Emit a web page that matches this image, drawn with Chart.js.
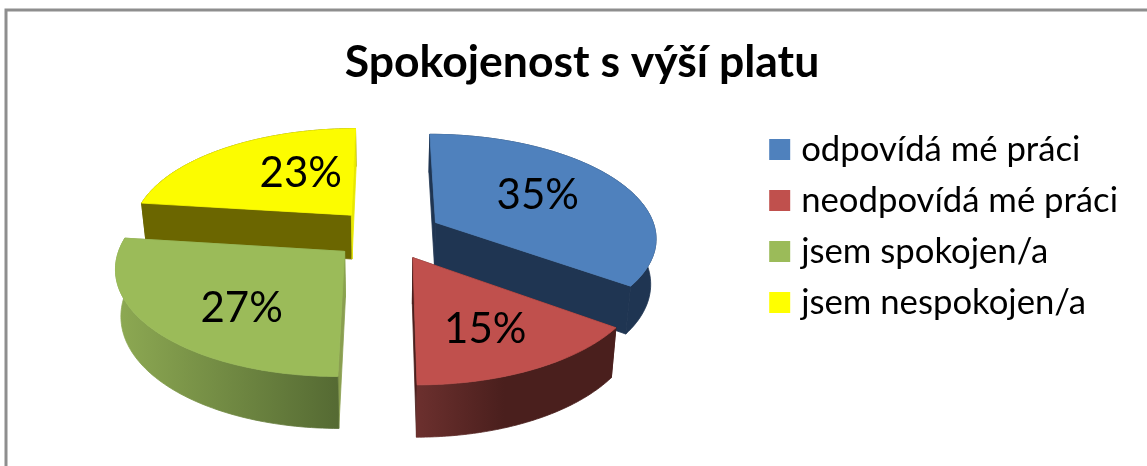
<!DOCTYPE html>
<html lang="cs">
<head>
<meta charset="utf-8">
<title>Spokojenost s výší platu</title>
<style>html,body{margin:0;padding:0;background:#fff;overflow:hidden}canvas{display:block}</style>
<script src="https://cdn.jsdelivr.net/npm/chart.js@4"></script>
</head>
<body>
<canvas id="c" width="1147" height="466"></canvas>
<script>
const titleText = 'Spokojenost s výší platu';
const categories = ['odpovídá mé práci', 'neodpovídá mé práci', 'jsem spokojen/a', 'jsem nespokojen/a'];
const percentages = [35, 15, 27, 23];
const topColors = ['#4f81bd', '#c0504d', '#9bbb59', '#fcfc00'];
const legendColors = ['#4f81bd', '#c0504d', '#9bbb59', '#ffff00'];
const startFaceColors = ['#1f3552', '#4a1f1d', '#8a9f50', '#6b6600'];
const endFaceColors = ['#1f3552', '#4a1f1d', '#8aa34e', '#e8e800'];
const outerLeftColors = ['#1f3552', '#6c302e', '#8ca852', '#6b6600'];
const outerRightColors = ['#1f3552', '#4a1f1d', '#556a33', '#6b6600'];
const labelRadii = [0.52, 0.65, 0.62, 0.44];
const labelNudgeX = [6, -3, 11, 8];
const labelNudgeY = [-4, 3, 10, -11];
const drawOrder = [3, 0, 2, 1];

const view = { cx: 387, cy: 234, ax: 221, ay: 103, k: 0.135, depth: 45, depthV: 6, shrink: 0.98 };

function project(u, v) {
  const w = 1 - view.k * v;
  return { x: view.cx + u * view.ax / w, y: view.cy + v * view.ay / w };
}
function drop(p, v) {
  return { x: view.cx + (p.x - view.cx) * view.shrink, y: p.y + view.depth + view.depthV * v };
}
function geom(arc) {
  const R = arc.outerRadius, off = (arc.options.offset || 0) / R;
  const mid = (arc.startAngle + arc.endAngle) / 2;
  const ox = Math.cos(mid) * off, oy = Math.sin(mid) * off;
  const pts = [];
  const n = 80;
  for (let i = 0; i <= n; i++) {
    const t = arc.startAngle + (arc.endAngle - arc.startAngle) * i / n;
    pts.push({ u: ox + Math.cos(t), v: oy + Math.sin(t) });
  }
  return { apex: { u: ox, v: oy }, pts, mid };
}
function poly(ctx, list, fill) {
  ctx.beginPath();
  list.forEach((p, i) => i ? ctx.lineTo(p.x, p.y) : ctx.moveTo(p.x, p.y));
  ctx.closePath();
  ctx.fillStyle = fill;
  ctx.fill();
  ctx.strokeStyle = fill;
  ctx.lineWidth = 0.8;
  ctx.stroke();
}
const pie3d = {
  id: 'pie3d',
  beforeDraw(chart) {
    const c = chart.ctx;
    c.save();
    c.fillStyle = '#fff';
    c.fillRect(0, 0, chart.width, chart.height);
    c.strokeStyle = '#8e8e8e';
    c.lineWidth = 3;
    c.beginPath();
    c.moveTo(6, chart.height);
    c.lineTo(6, 10);
    c.lineTo(chart.width, 10);
    c.stroke();
    c.restore();
  },
  beforeDatasetDraw(chart, args) {
    const c = chart.ctx;
    const arcs = args.meta.data;
    c.save();
    drawOrder.forEach(i => {
      const g = geom(arcs[i]);
      const pr = o => project(o.u, o.v);
      const top = g.pts.map(pr);
      const bot = g.pts.map(o => drop(pr(o), o.v));
      const A = pr(g.apex), B = drop(A, g.apex.v);
      const last = top.length - 1;
      const xs = bot.map(p => p.x);
      const grad = c.createLinearGradient(Math.min(...xs), 0, Math.max(...xs), 0);
      grad.addColorStop(0, outerLeftColors[i]);
      grad.addColorStop(i === 1 ? 0.45 : 1, outerRightColors[i]);
      if (i === 1) grad.addColorStop(1, outerRightColors[i]);
      const outer = () => poly(c, top.concat(bot.slice().reverse()), grad);
      const faces = () => {
        poly(c, [A, top[0], bot[0], B], startFaceColors[i]);
        poly(c, [A, top[last], bot[last], B], endFaceColors[i]);
      };
      // back-facing rims go behind the cut faces, front-facing rims in front of them
      if (Math.sin(g.mid) < 0) { outer(); faces(); } else { faces(); outer(); }
      poly(c, [A].concat(top), topColors[i]);
    });
    c.fillStyle = '#000';
    c.font = '42px Lato';
    c.textAlign = 'center';
    c.textBaseline = 'middle';
    arcs.forEach((arc, i) => {
      const g = geom(arc), r = labelRadii[i];
      const p = project(g.apex.u + Math.cos(g.mid) * r, g.apex.v + Math.sin(g.mid) * r);
      c.fillText(percentages[i] + '%', p.x + labelNudgeX[i], p.y + labelNudgeY[i]);
    });
    c.restore();
    return false;
  }
};

new Chart(document.getElementById('c'), {
  type: 'pie',
  data: {
    labels: categories,
    datasets: [{ data: percentages, backgroundColor: legendColors, borderWidth: 0, radius: 100, offset: 25 }]
  },
  options: {
    responsive: false,
    animation: false,
    layout: { padding: { left: 36, right: 19, top: 36, bottom: 50 } },
    plugins: {
      tooltip: { enabled: false },
      title: {
        display: true, text: titleText, color: '#000',
        font: { family: 'Lato', size: 44.5, weight: 'bold' },
        padding: { top: 0, bottom: 20 }
      },
      legend: {
        position: 'right',
        labels: {
          color: '#000',
          font: { family: 'Lato', size: 34.7 },
          padding: 16.3,
          boxWidth: 8.3,
          boxHeight: 8.3,
          generateLabels: chart => categories.map((text, i) => ({
            text, index: i, fillStyle: legendColors[i], strokeStyle: legendColors[i], lineWidth: 12.7, hidden: false
          }))
        }
      }
    }
  },
  plugins: [pie3d]
});
</script>
</body>
</html>
